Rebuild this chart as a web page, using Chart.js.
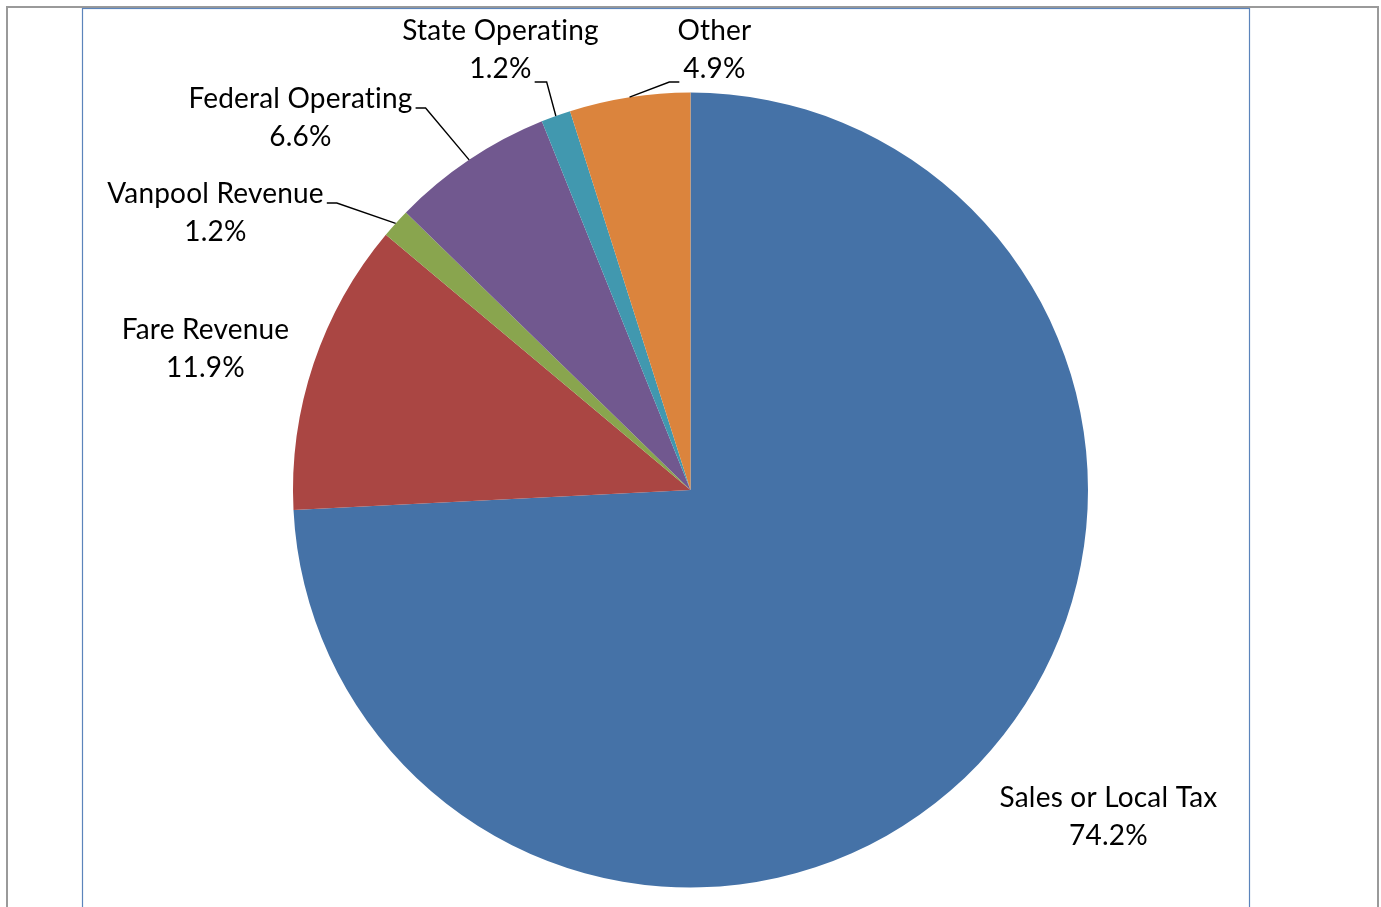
<!DOCTYPE html>
<html>
<head>
<meta charset="utf-8">
<script src="https://cdn.jsdelivr.net/npm/chart.js@4"></script>
<style>
  html, body { margin: 0; padding: 0; background: #fff; }
  #wrap { width: 1381px; height: 907px; position: relative; }
</style>
</head>
<body>
<div id="wrap"><canvas id="pie"></canvas></div>
<script>
const categories = ["Sales or Local Tax", "Fare Revenue", "Vanpool Revenue", "Federal Operating", "State Operating", "Other"];
const shares = [74.2, 11.9, 1.2, 6.6, 1.2, 4.9];
const sliceColors = ["#4572A7", "#AA4643", "#89A54E", "#71588F", "#4198AF", "#DB843D"];

// where each label sits, relative to the pie centre: [x of text centre, baseline of first line]
const labelSpots = [
  [418, 317], [-485, -151], [-475, -287], [-390, -382], [-190, -450], [24, -450]
];
// leader line: null = none, "right1" = from end of first line, "right2"/"left2" = from second line
const leaderFrom = [null, null, "right1", "right1", "right2", "left2"];

const FONT = "28px Lato";
const LINE_GAP = 38;

const frame = {
  id: "frame",
  beforeDraw(chart) {
    const ctx = chart.ctx;
    ctx.save();
    ctx.fillStyle = "#fff";
    ctx.fillRect(0, 0, chart.width, chart.height);
    ctx.strokeStyle = "#9a9a9a";
    ctx.lineWidth = 2;
    ctx.strokeRect(7, 7, 1371, 920);
    ctx.strokeStyle = "#5b84bb";
    ctx.lineWidth = 1.2;
    ctx.strokeRect(82.5, 8.5, 1167, 920);
    ctx.restore();
  }
};

const outsideLabels = {
  id: "outsideLabels",
  afterDraw(chart) {
    const ctx = chart.ctx;
    const arcs = chart.getDatasetMeta(0).data;
    ctx.save();
    ctx.font = FONT;
    // a tiny letter spacing keeps Lato from joining "ti" into a ligature
    ctx.letterSpacing = "0.2px";
    ctx.fillStyle = "#000";
    ctx.textAlign = "center";
    ctx.textBaseline = "alphabetic";
    ctx.strokeStyle = "#000";
    ctx.lineWidth = 1.4;
    arcs.forEach((arc, i) => {
      const cx = arc.x, cy = arc.y;
      const tx = cx + labelSpots[i][0];
      const ty = cy + labelSpots[i][1];
      const line1 = categories[i];
      const line2 = shares[i].toFixed(1) + "%";
      ctx.fillText(line1, tx, ty);
      ctx.fillText(line2, tx, ty + LINE_GAP);

      const mode = leaderFrom[i];
      if (!mode) return;
      const mid = (arc.startAngle + arc.endAngle) / 2;
      const ex = cx + Math.cos(mid) * arc.outerRadius;
      const ey = cy + Math.sin(mid) * arc.outerRadius;
      let sx, sy, kx;
      if (mode === "right1") {
        sx = tx + ctx.measureText(line1).width / 2 + 3;
        sy = ty;
        kx = sx + 10;
      } else if (mode === "right2") {
        sx = tx + ctx.measureText(line2).width / 2 + 3;
        sy = ty + LINE_GAP + 4;
        kx = sx + 12;
      } else {
        sx = tx - ctx.measureText(line2).width / 2 - 4;
        sy = ty + LINE_GAP + 4;
        kx = sx - 10;
      }
      ctx.beginPath();
      ctx.moveTo(sx, sy);
      ctx.lineTo(kx, sy);
      ctx.lineTo(ex, ey);
      ctx.stroke();
    });
    ctx.restore();
  }
};

new Chart(document.getElementById("pie"), {
  type: "pie",
  data: {
    labels: categories,
    datasets: [{
      data: shares,
      backgroundColor: sliceColors,
      borderWidth: 0
    }]
  },
  options: {
    responsive: true,
    maintainAspectRatio: false,
    animation: false,
    layout: { padding: { left: 293, right: 293, top: 92, bottom: 19 } },
    plugins: {
      legend: { display: false },
      tooltip: { enabled: false }
    }
  },
  plugins: [frame, outsideLabels]
});
</script>
</body>
</html>
